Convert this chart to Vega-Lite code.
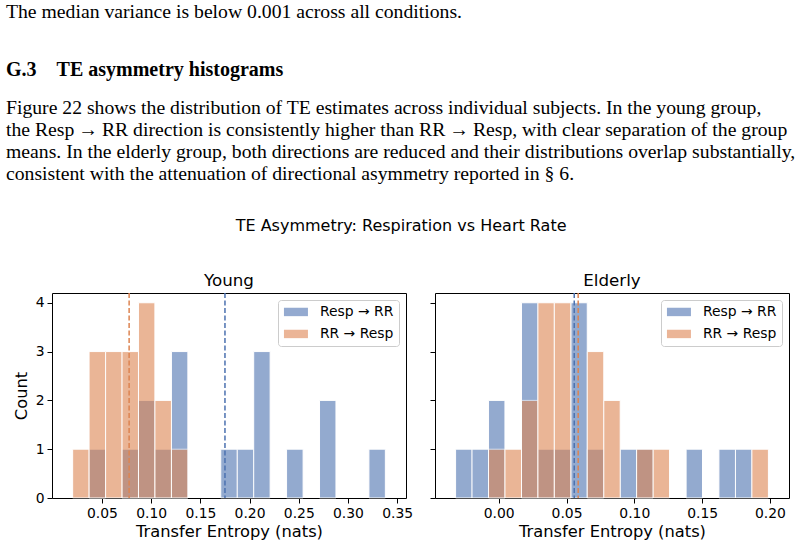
{
  "$schema": "https://vega.github.io/schema/vega-lite/v6.json",
  "background": "white",
  "padding": {"left": 6, "top": 0, "right": 0, "bottom": 0},
  "datasets": {
    "page": [
      {"block": "lead", "line": 0, "text": "The median variance is below 0.001 across all conditions."},
      {"block": "heading", "line": 3, "text": "G.3\u2003TE asymmetry histograms"},
      {"block": "body", "line": 5, "text": "Figure 22 shows the distribution of TE estimates across individual subjects.  In the young group,"},
      {"block": "body", "line": 6, "text": "the Resp\u2009\u2192\u2009RR direction is consistently higher than RR\u2009\u2192\u2009Resp, with clear separation of the group"},
      {"block": "body", "line": 7, "text": "means. In the elderly group, both directions are reduced and their distributions overlap substantially,"},
      {"block": "body", "line": 8, "text": "consistent with the attenuation of directional asymmetry reported in \u00a7 6."}
    ],
    "bins": [
      {"group": "Young", "direction": "Resp \u2192 RR", "bin_start": 0.0369, "bin_end": 0.0537, "count": 1},
      {"group": "Young", "direction": "Resp \u2192 RR", "bin_start": 0.0704, "bin_end": 0.0871, "count": 1},
      {"group": "Young", "direction": "Resp \u2192 RR", "bin_start": 0.0871, "bin_end": 0.1038, "count": 2},
      {"group": "Young", "direction": "Resp \u2192 RR", "bin_start": 0.1038, "bin_end": 0.1206, "count": 1},
      {"group": "Young", "direction": "Resp \u2192 RR", "bin_start": 0.1206, "bin_end": 0.1373, "count": 3},
      {"group": "Young", "direction": "Resp \u2192 RR", "bin_start": 0.1707, "bin_end": 0.1875, "count": 1},
      {"group": "Young", "direction": "Resp \u2192 RR", "bin_start": 0.1875, "bin_end": 0.2042, "count": 1},
      {"group": "Young", "direction": "Resp \u2192 RR", "bin_start": 0.2042, "bin_end": 0.2209, "count": 3},
      {"group": "Young", "direction": "Resp \u2192 RR", "bin_start": 0.2376, "bin_end": 0.2544, "count": 1},
      {"group": "Young", "direction": "Resp \u2192 RR", "bin_start": 0.2711, "bin_end": 0.2878, "count": 2},
      {"group": "Young", "direction": "Resp \u2192 RR", "bin_start": 0.3213, "bin_end": 0.3380, "count": 1},
      {"group": "Elderly", "direction": "Resp \u2192 RR", "bin_start": -0.0318, "bin_end": -0.0197, "count": 1},
      {"group": "Elderly", "direction": "Resp \u2192 RR", "bin_start": -0.0197, "bin_end": -0.0075, "count": 1},
      {"group": "Elderly", "direction": "Resp \u2192 RR", "bin_start": -0.0075, "bin_end": 0.0046, "count": 2},
      {"group": "Elderly", "direction": "Resp \u2192 RR", "bin_start": 0.0168, "bin_end": 0.0289, "count": 4},
      {"group": "Elderly", "direction": "Resp \u2192 RR", "bin_start": 0.0289, "bin_end": 0.0410, "count": 1},
      {"group": "Elderly", "direction": "Resp \u2192 RR", "bin_start": 0.0410, "bin_end": 0.0532, "count": 1},
      {"group": "Elderly", "direction": "Resp \u2192 RR", "bin_start": 0.0532, "bin_end": 0.0653, "count": 4},
      {"group": "Elderly", "direction": "Resp \u2192 RR", "bin_start": 0.0653, "bin_end": 0.0775, "count": 1},
      {"group": "Elderly", "direction": "Resp \u2192 RR", "bin_start": 0.0896, "bin_end": 0.1017, "count": 1},
      {"group": "Elderly", "direction": "Resp \u2192 RR", "bin_start": 0.1017, "bin_end": 0.1139, "count": 1},
      {"group": "Elderly", "direction": "Resp \u2192 RR", "bin_start": 0.1382, "bin_end": 0.1503, "count": 1},
      {"group": "Elderly", "direction": "Resp \u2192 RR", "bin_start": 0.1624, "bin_end": 0.1746, "count": 1},
      {"group": "Elderly", "direction": "Resp \u2192 RR", "bin_start": 0.1746, "bin_end": 0.1867, "count": 1},
      {"group": "Young", "direction": "RR \u2192 Resp", "bin_start": 0.0202, "bin_end": 0.0369, "count": 1},
      {"group": "Young", "direction": "RR \u2192 Resp", "bin_start": 0.0369, "bin_end": 0.0537, "count": 3},
      {"group": "Young", "direction": "RR \u2192 Resp", "bin_start": 0.0537, "bin_end": 0.0704, "count": 3},
      {"group": "Young", "direction": "RR \u2192 Resp", "bin_start": 0.0704, "bin_end": 0.0871, "count": 3},
      {"group": "Young", "direction": "RR \u2192 Resp", "bin_start": 0.0871, "bin_end": 0.1038, "count": 4},
      {"group": "Young", "direction": "RR \u2192 Resp", "bin_start": 0.1038, "bin_end": 0.1206, "count": 2},
      {"group": "Young", "direction": "RR \u2192 Resp", "bin_start": 0.1206, "bin_end": 0.1373, "count": 1},
      {"group": "Elderly", "direction": "RR \u2192 Resp", "bin_start": -0.0075, "bin_end": 0.0046, "count": 1},
      {"group": "Elderly", "direction": "RR \u2192 Resp", "bin_start": 0.0046, "bin_end": 0.0168, "count": 1},
      {"group": "Elderly", "direction": "RR \u2192 Resp", "bin_start": 0.0168, "bin_end": 0.0289, "count": 2},
      {"group": "Elderly", "direction": "RR \u2192 Resp", "bin_start": 0.0289, "bin_end": 0.0410, "count": 4},
      {"group": "Elderly", "direction": "RR \u2192 Resp", "bin_start": 0.0410, "bin_end": 0.0532, "count": 4},
      {"group": "Elderly", "direction": "RR \u2192 Resp", "bin_start": 0.0653, "bin_end": 0.0775, "count": 3},
      {"group": "Elderly", "direction": "RR \u2192 Resp", "bin_start": 0.0775, "bin_end": 0.0896, "count": 2},
      {"group": "Elderly", "direction": "RR \u2192 Resp", "bin_start": 0.1017, "bin_end": 0.1139, "count": 1},
      {"group": "Elderly", "direction": "RR \u2192 Resp", "bin_start": 0.1139, "bin_end": 0.1260, "count": 1},
      {"group": "Elderly", "direction": "RR \u2192 Resp", "bin_start": 0.1867, "bin_end": 0.1989, "count": 1}
    ],
    "means": [
      {"group": "Young", "direction": "Resp \u2192 RR", "mean": 0.175},
      {"group": "Young", "direction": "RR \u2192 Resp", "mean": 0.0776},
      {"group": "Elderly", "direction": "Resp \u2192 RR", "mean": 0.0557},
      {"group": "Elderly", "direction": "RR \u2192 Resp", "mean": 0.0586}
    ]
  },
  "config": {
    "font": "DejaVu Sans",
    "view": {"stroke": "#000000", "strokeWidth": 1},
    "axis": {
      "grid": false,
      "domain": false,
      "tickColor": "#000000",
      "tickSize": 5,
      "tickWidth": 1,
      "labelColor": "#000000",
      "labelFont": "DejaVu Sans",
      "labelFontSize": 13.9,
      "labelPadding": 3,
      "titleFont": "DejaVu Sans",
      "titleFontSize": 16.3,
      "titleFontWeight": "normal",
      "titleColor": "#000000"
    },
    "title": {"font": "DejaVu Sans", "fontWeight": "normal", "color": "#000000"},
    "legend": {
      "orient": "top-right",
      "offset": 7,
      "fillColor": "rgba(255,255,255,0.8)",
      "strokeColor": "#cccccc",
      "cornerRadius": 3,
      "padding": 5,
      "labelFont": "DejaVu Sans",
      "labelFontSize": 13.9,
      "labelColor": "#000000",
      "symbolType": "M-1,-0.7H3V0.7H-1Z",
      "symbolSize": 144,
      "symbolOpacity": 0.6,
      "symbolStrokeWidth": 0,
      "labelOffset": 23,
      "rowPadding": 7
    }
  },
  "vconcat": [
    {
      "width": 700,
      "height": 198,
      "view": {"stroke": null},
      "data": {"name": "page"},
      "encoding": {
        "x": {"datum": 0, "type": "quantitative", "scale": {"domain": [0, 1]}, "axis": null},
        "y": {"field": "line", "type": "quantitative", "scale": {"domain": [0.0909, 9.0909], "reverse": true, "nice": false, "zero": false}, "axis": null},
        "text": {"field": "text", "type": "nominal"}
      },
      "layer": [
        {
          "transform": [{"filter": "datum.block === 'lead'"}],
          "mark": {"type": "text", "align": "left", "baseline": "middle", "font": "Liberation Serif", "fontSize": 19.7, "color": "#000000", "dx": -46, "dy": 14}
        },
        {
          "transform": [{"filter": "datum.block === 'heading'"}],
          "mark": {"type": "text", "align": "left", "baseline": "middle", "font": "Liberation Serif", "fontSize": 20, "fontWeight": "bold", "color": "#000000", "dx": -46, "dy": 6}
        },
        {
          "transform": [{"filter": "datum.block === 'body'"}],
          "mark": {"type": "text", "align": "left", "baseline": "middle", "font": "Liberation Serif", "fontSize": 19.7, "color": "#000000", "dx": -46}
        }
      ]
    },
    {
      "title": {"text": "TE Asymmetry: Respiration vs Heart Rate", "fontSize": 16, "anchor": "middle", "offset": 38},
      "bounds": "flush",
      "spacing": 29,
      "resolve": {"scale": {"x": "independent", "y": "independent"}, "legend": {"color": "independent"}},
      "hconcat": [
        {
          "title": {"text": "Young", "fontSize": 16.7, "offset": 3},
          "width": 354,
          "height": 205,
          "layer": [
            {
              "data": {"name": "bins"},
              "transform": [{"filter": "datum.group === 'Young'"}],
              "mark": {"type": "bar", "orient": "vertical", "opacity": 0.6, "stroke": "white", "strokeWidth": 1},
              "encoding": {
                "x": {"field": "bin_start", "type": "quantitative", "scale": {"domain": [0.0043, 0.3539], "nice": false, "zero": false}, "axis": {"values": [0.05, 0.1, 0.15, 0.2, 0.25, 0.3, 0.35], "format": ".2f", "title": "Transfer Entropy (nats)"}},
                "x2": {"field": "bin_end"},
                "y": {"field": "count", "type": "quantitative", "stack": null, "scale": {"domain": [0, 4.2], "nice": false}, "axis": {"values": [0, 1, 2, 3, 4], "title": "Count", "titlePadding": 6}},
                "y2": {"datum": 0},
                "color": {"field": "direction", "type": "nominal", "scale": {"domain": ["Resp \u2192 RR", "RR \u2192 Resp"], "range": ["#4C72B0", "#DD8452"]}, "legend": {"title": null}}
              }
            },
            {
              "data": {"name": "means"},
              "transform": [{"filter": "datum.group === 'Young'"}],
              "mark": {"type": "rule", "strokeDash": [5, 2.5], "strokeWidth": 1.5},
              "encoding": {
                "x": {"field": "mean", "type": "quantitative"},
                "color": {"field": "direction", "type": "nominal", "legend": null}
              }
            }
          ]
        },
        {
          "title": {"text": "Elderly", "fontSize": 16.7, "offset": 3},
          "width": 354,
          "height": 205,
          "layer": [
            {
              "data": {"name": "bins"},
              "transform": [{"filter": "datum.group === 'Elderly'"}],
              "mark": {"type": "bar", "orient": "vertical", "opacity": 0.6, "stroke": "white", "strokeWidth": 1},
              "encoding": {
                "x": {"field": "bin_start", "type": "quantitative", "scale": {"domain": [-0.0433, 0.2104], "nice": false, "zero": false}, "axis": {"values": [0, 0.05, 0.1, 0.15, 0.2], "format": ".2f", "title": "Transfer Entropy (nats)"}},
                "x2": {"field": "bin_end"},
                "y": {"field": "count", "type": "quantitative", "stack": null, "scale": {"domain": [0, 4.2], "nice": false}, "axis": {"values": [0, 1, 2, 3, 4], "labels": false, "title": null}},
                "y2": {"datum": 0},
                "color": {"field": "direction", "type": "nominal", "scale": {"domain": ["Resp \u2192 RR", "RR \u2192 Resp"], "range": ["#4C72B0", "#DD8452"]}, "legend": {"title": null}}
              }
            },
            {
              "data": {"name": "means"},
              "transform": [{"filter": "datum.group === 'Elderly'"}],
              "mark": {"type": "rule", "strokeDash": [5, 2.5], "strokeWidth": 1.5},
              "encoding": {
                "x": {"field": "mean", "type": "quantitative"},
                "color": {"field": "direction", "type": "nominal", "legend": null}
              }
            }
          ]
        }
      ]
    }
  ],
  "spacing": 20
}
